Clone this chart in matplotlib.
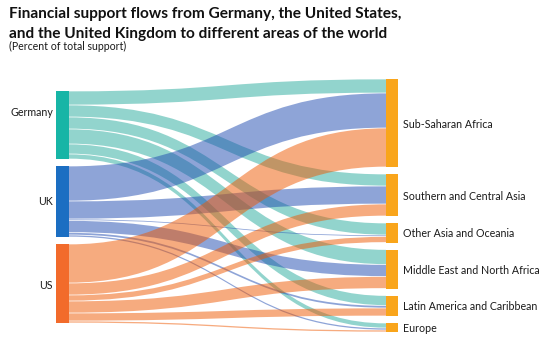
import matplotlib.pyplot as plt
from matplotlib.path import Path
from matplotlib.patches import PathPatch, Rectangle

plt.rcParams['font.family'] = ['Lato', 'DejaVu Sans']

# flows (share of total support), in region order
donors = ['Germany', 'UK', 'US']
regions = ['Sub-Saharan Africa', 'Southern and Central Asia', 'Other Asia and Oceania',
           'Middle East and North Africa', 'Latin America and Caribbean', 'Europe']
germany = [14, 12, 12, 15, 10, 5]
uk = [35, 18, 1.5, 12, 2.5, 2]
us = [39, 12, 6, 12, 8, 2]
flows = [germany, uk, us]

donor_colors = ['#17b5a6', '#1b6ec2', '#f26b2b']
flow_colors = ['#27aa9c', '#1f4bb1', '#ef5800']
region_color = '#f9a51b'

fig = plt.figure(figsize=(5.51, 3.42), dpi=100)
ax = fig.add_axes([0, 0, 1, 1])
ax.set_xlim(0, 551)
ax.set_ylim(342, 0)
ax.axis('off')

gap = 7
lx0, lx1 = 56, 69
rx0, rx1 = 386, 398
ltop, rtop = 91, 79

# node positions
donor_tot = [sum(f) for f in flows]
region_tot = [sum(f[j] for f in flows) for j in range(len(regions))]
dy = []
y = ltop
for t in donor_tot:
    dy.append(y)
    y += t + gap
ry = []
y = rtop
for t in region_tot:
    ry.append(y)
    y += t + gap

# where each flow sits on its target node (donors stacked top to bottom)
tgt_off = list(ry)
tgt_pos = {}
for i in range(len(donors)):
    for j in range(len(regions)):
        tgt_pos[(i, j)] = tgt_off[j]
        tgt_off[j] += flows[i][j]

xm = (lx1 + rx0) / 2
shrink = 0.35
for i in range(len(donors)):
    s = dy[i]
    for j in range(len(regions)):
        v = flows[i][j]
        t = tgt_pos[(i, j)]
        s0, s1 = s + shrink, s + v - shrink
        t0, t1 = t + shrink, t + v - shrink
        verts = [(lx1, s0), (xm, s0), (xm, t0), (rx0, t0),
                 (rx0, t1), (xm, t1), (xm, s1), (lx1, s1), (lx1, s0)]
        codes = [Path.MOVETO, Path.CURVE4, Path.CURVE4, Path.CURVE4,
                 Path.LINETO, Path.CURVE4, Path.CURVE4, Path.CURVE4, Path.CLOSEPOLY]
        ax.add_patch(PathPatch(Path(verts, codes), facecolor=flow_colors[i],
                               alpha=0.5, lw=0))
        s += v

label_dy = [-12, 0, 2]
for i, name in enumerate(donors):
    ax.add_patch(Rectangle((lx0, dy[i]), lx1 - lx0, donor_tot[i],
                           facecolor=donor_colors[i], lw=0))
    ax.text(lx0 - 3, dy[i] + donor_tot[i] / 2 + label_dy[i], name,
            ha='right', va='center', fontsize=7.7, color='#1a1a1a')

for j, name in enumerate(regions):
    ax.add_patch(Rectangle((rx0, ry[j]), rx1 - rx0, region_tot[j],
                           facecolor=region_color, lw=0))
    ax.text(rx1 + 5, ry[j] + region_tot[j] / 2 + 1, name,
            ha='left', va='center', fontsize=7.7, color='#1a1a1a')

ax.text(9, 18, 'Financial support flows from Germany, the United States,',
        fontsize=11.1, fontweight='bold', va='baseline', color='#111111')
ax.text(9, 38, 'and the United Kingdom to different areas of the world',
        fontsize=11.1, fontweight='bold', va='baseline', color='#111111')
ax.text(9, 49.5, '(Percent of total support)', fontsize=7.6, va='baseline',
        color='#1a1a1a')

fig.savefig('out.png', dpi=100)
